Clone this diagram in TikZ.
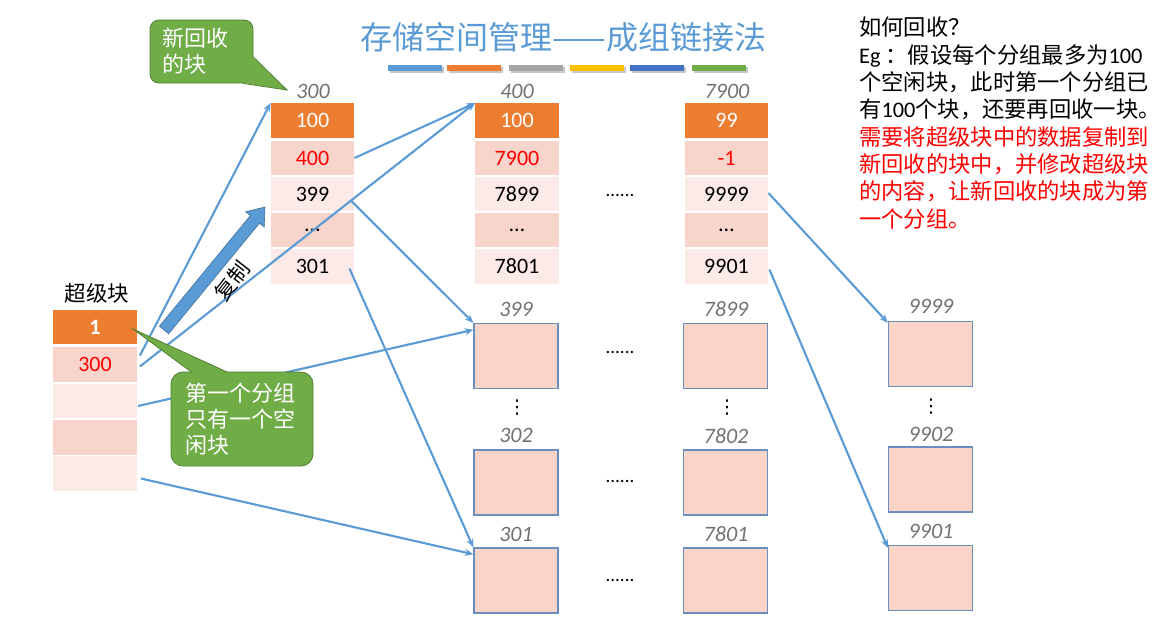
\documentclass[tikz,border=0pt]{standalone}
\usepackage{fontspec}
\setmainfont{Carlito}
\newfontfamily\cjk{Noto Sans CJK SC}
\newfontfamily\djv{DejaVu Sans}
\usetikzlibrary{arrows.meta,calc}
\definecolor{orangeC}{HTML}{ED7D31}
\definecolor{pinkD}{HTML}{F8D5CC}
\definecolor{pinkL}{HTML}{FBEAE7}
\definecolor{blkF}{HTML}{F9D5C8}
\definecolor{blkB}{HTML}{6A8EBF}
\definecolor{arrC}{HTML}{5B9BD5}
\definecolor{arrB}{HTML}{41719C}
\definecolor{grayT}{HTML}{767171}
\definecolor{greenC}{HTML}{70AD47}
\definecolor{greenB}{HTML}{507E32}
\definecolor{barA}{HTML}{5B9BD5}
\definecolor{barB}{HTML}{ED7D31}
\definecolor{barC}{HTML}{A5A5A5}
\definecolor{barD}{HTML}{FFC000}
\definecolor{barE}{HTML}{4472C4}
\definecolor{barF}{HTML}{70AD47}
\newcommand\zh[1]{{\cjk #1}}
\newcommand\numf{\fontsize{22}{26}\selectfont}
\tikzset{
  cellbase/.style={minimum width=83.5pt, minimum height=34.5pt, inner sep=0pt, font=\numf},
  cellO/.style={cellbase, fill=orangeC, text=white},
  cellD/.style={cellbase, fill=pinkD},
  cellL/.style={cellbase, fill=pinkL},
  blk/.style={fill=blkF, draw=blkB, line width=1.4pt, minimum width=84pt, minimum height=65pt, inner sep=0pt},
  lbl/.style={font=\numf\itshape, text=grayT, inner sep=0pt},
  dots/.style={font=\fontsize{19}{22}\selectfont, inner sep=0pt},
  vdts/.style={font=\djv\fontsize{19}{22}\selectfont, inner sep=0pt},
  arr/.style={draw=arrC, line width=2.1pt, -{Stealth[length=8.5pt,width=7pt]}},
  callout/.style={fill=greenC, draw=greenB, line width=0.8pt},
  ctext/.style={font=\cjk\fontsize{22}{26}\selectfont, text=white, align=left, inner sep=0pt, anchor=north west},
}
\begin{document}
\begin{tikzpicture}[x=1pt,y=-1pt]
\useasboundingbox (0,0) rectangle (1165,625);
\fill[white] (0,0) rectangle (1165,625);

% title
\node[font=\cjk\fontsize{32}{36}\selectfont, text=barA] (title) at (563.5,37) {存储空间管理——成组链接法};
\foreach \x/\c in {388/barA,447/barB,509/barC,570/barD,630/barE,692/barF}{
  \fill[black!22] (\x+1.5,66.5) rectangle ++(54,6);
  \fill[\c] (\x,65) rectangle ++(54,6);
}

% super block
\node[font=\cjk\fontsize{21.5}{25}\selectfont, inner sep=0pt] (suplbl) at (97,293) {超级块};
\node[cellO] (s1) at (95,327) {\textbf{1}};
\node[cellD, text=red] (s2) at (95,364.5) {300};
\node[cellL] (s3) at (95,401) {};
\node[cellD] (s4) at (95,437.5) {};
\node[cellL] (s5) at (95,473.5) {};

% table 300
\node[lbl] (l300) at (313,91) {300};
\node[cellO] (t3a) at (312.5,120.5) {100};
\node[cellD, text=red] (t3b) at (312.5,158) {400};
\node[cellL] (t3c) at (312.5,194) {399};
\node[cellD] (t3d) at (312.5,230) {…};
\node[cellL] (t3e) at (312.5,266.5) {301};

% table 400
\node[lbl] (l400) at (517,91) {400};
\node[cellO] (t4a) at (517,120.5) {100};
\node[cellD, text=red] (t4b) at (517,158) {7900};
\node[cellL] (t4c) at (517,194) {7899};
\node[cellD] (t4d) at (517,230) {…};
\node[cellL] (t4e) at (517,266.5) {7801};

% table 7900
\node[lbl] (l7900) at (727,91) {7900};
\node[cellO] (t7a) at (726.5,120.5) {99};
\node[cellD, text=red] (t7b) at (726.5,158) {-1};
\node[cellL] (t7c) at (726.5,194) {9999};
\node[cellD] (t7d) at (726.5,230) {…};
\node[cellL] (t7e) at (726.5,266.5) {9901};

\node[dots] (d1) at (620,195) {......};

% blocks column 1
\node[lbl] (lb399) at (516,309) {399};
\node[blk] (b399) at (516,356) {};
\node[vdts] (v1) at (517,408) {⋮};
\node[lbl] (lb302) at (516,435) {302};
\node[blk] (b302) at (516,482.5) {};
\node[lbl] (lb301) at (516,534) {301};
\node[blk] (b301) at (516,580.5) {};

% blocks column 2
\node[lbl] (lb7899) at (726,309) {7899};
\node[blk] (b7899) at (725.5,356) {};
\node[vdts] (v2) at (727,408) {⋮};
\node[lbl] (lb7802) at (726,436) {7802};
\node[blk] (b7802) at (725.5,482.5) {};
\node[lbl] (lb7801) at (726,534) {7801};
\node[blk] (b7801) at (725.5,580.5) {};

\node[dots] (d2) at (620,352) {......};
\node[dots] (d3) at (620,481) {......};
\node[dots] (d4) at (620,580) {......};

% blocks column 3
\node[lbl] (lb9999) at (931,306) {9999};
\node[blk] (b9999) at (930.5,354) {};
\node[vdts] (v3) at (931,407) {⋮};
\node[lbl] (lb9902) at (931,434) {9902};
\node[blk] (b9902) at (930.5,479.5) {};
\node[lbl] (lb9901) at (931,531) {9901};
\node[blk] (b9901) at (930.5,578) {};

% right text
\node[anchor=north west, align=left, inner sep=0pt, font=\fontsize{22.3}{27.3}\selectfont] (desc) at (859,17) {%
\zh{如何回收？}\\
Eg \zh{：假设每个分组最多为}100\\
\zh{个空闲块，此时第一个分组已}\\
\zh{有}100\zh{个块，还要再回收一块。}\\
\textcolor{red}{\zh{需要将超级块中的数据复制到}}\\
\textcolor{red}{\zh{新回收的块中，并修改超级块}}\\
\textcolor{red}{\zh{的内容，让新回收的块成为第}}\\
\textcolor{red}{\zh{一个分组。}}};

% thin arrows
\draw[arr] ([xshift=3pt,yshift=9pt]s2.east) -- (t3a.north west);
\draw[arr] ([xshift=3pt,yshift=-2pt]s2.east) -- (t4a.north west);
\draw[arr] (t3b.east) -- (t4a.north west);
\draw[arr] ([xshift=-4pt,yshift=-6pt]t3c.east) -- (b399.north west);
\draw[arr] ([xshift=-5pt,yshift=-2pt]t3e.east) -- (b301.north west);
\draw[arr] ([xshift=1pt,yshift=-5pt]s3.east) -- ([yshift=-7pt]b399.north west);
\draw[arr] ([xshift=4pt,yshift=-5pt]s5.east) -- ([yshift=-7pt]b301.north west);
\draw[arr] ([yshift=1pt]t7c.east) -- ([yshift=-2pt]b9999.north west);
\draw[arr] ([xshift=1pt,yshift=-3pt]t7e.east) -- ([yshift=-3pt]b9901.north west);

% big copy arrow
\draw[fill=arrC, draw=arrB, line width=0.6pt] (159.4,326.2) -- (250.3,215.6) -- (245.6,211.8) -- (265,207) -- (264.2,227.0) -- (259.5,223.2) -- (168.6,333.8) -- cycle;
\node[font=\cjk\fontsize{21}{24}\selectfont, rotate=52, inner sep=0pt] (copy) at (232,281) {复制};

% callout 1
\draw[callout, rounded corners=9pt] (150,20) rectangle (253,83);
\fill[greenC] (253,57) -- (287,90) -- (243,83) -- cycle;
\draw[greenB, line width=0.8pt, line join=miter] (253.4,57) -- (287,90) -- (243,83.4);
\node[ctext] (c1) at (162,28) {新回收\\的块};

% callout 2
\draw[callout, rounded corners=12pt] (171,372) rectangle (313,466);
\fill[greenC] (192,372.5) -- (133,329) -- (228,372.5) -- cycle;
\draw[greenB, line width=0.8pt] (192,372.4) -- (133,329) -- (228,372.4);
\node[ctext] (c2) at (185,383) {第一个分组\\只有一个空\\闲块};
\end{tikzpicture}
\end{document}
